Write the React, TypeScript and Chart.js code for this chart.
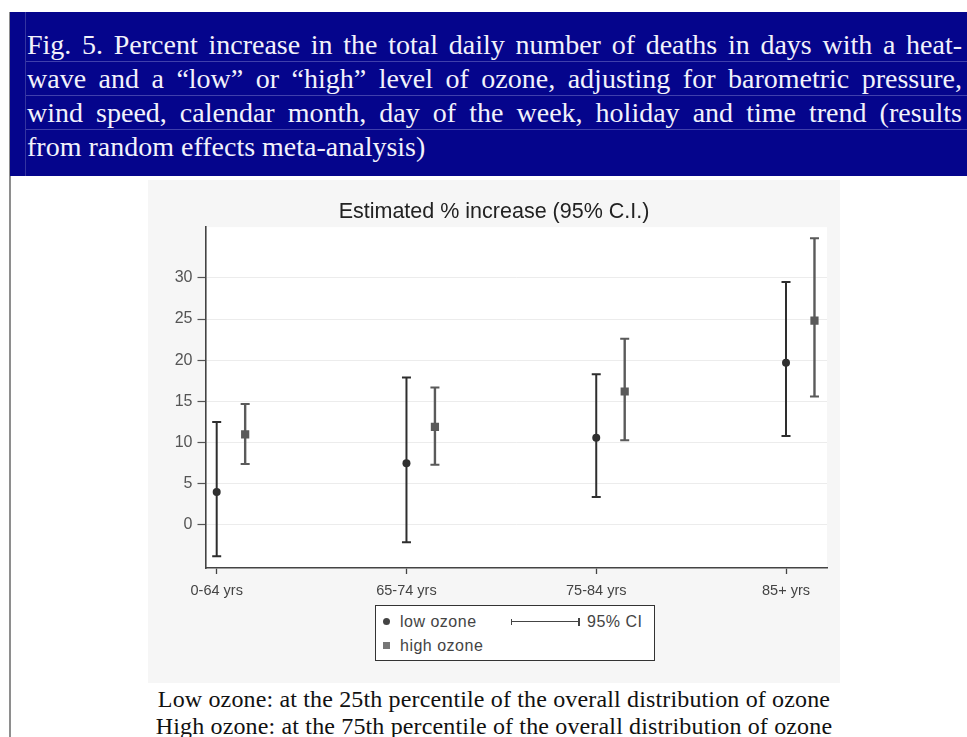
import React, { useEffect, useRef } from 'react';
import { Chart, registerables } from 'chart.js';

Chart.register(...registerables);

// ---- data ----
const categories = ['0-64 yrs', '65-74 yrs', '75-84 yrs', '85+ yrs'];
const lowEstimate = [4.0, 7.5, 10.6, 19.7];
const lowLower = [-3.8, -2.1, 3.4, 10.8];
const lowUpper = [12.5, 17.9, 18.3, 29.5];
const highEstimate = [11.0, 11.9, 16.2, 24.8];
const highLower = [7.4, 7.3, 10.3, 15.6];
const highUpper = [14.7, 16.7, 22.6, 34.8];
const yTicks = [0, 5, 10, 15, 20, 25, 30];
const highOffset = 0.15;

const headerLines = [
  'Fig. 5. Percent increase in the total daily number of deaths in days with a heat-',
  'wave and a \u201clow\u201d or \u201chigh\u201d level of ozone, adjusting for barometric pressure,',
  'wind speed, calendar month, day of the week, holiday and time trend (results',
  'from random effects meta-analysis)',
];
const captionLines = [
  'Low ozone: at the 25th percentile of the overall distribution of ozone',
  'High ozone: at the 75th percentile of the overall distribution of ozone',
];

const SANS = "'Liberation Sans', Arial, Helvetica, sans-serif";
const SERIF = "'Liberation Serif', 'Times New Roman', serif";

const errorSpecs = [
  { lower: lowLower, upper: lowUpper, color: '#2e2e2e', width: 2 },
  { lower: highLower, upper: highUpper, color: '#5a5a5a', width: 2.4 },
];

const bgPlugin = {
  id: 'panelBg',
  beforeDraw(chart: any) {
    const { ctx, chartArea, width, height } = chart;
    ctx.save();
    ctx.fillStyle = '#f6f6f6';
    ctx.fillRect(0, 0, width, height);
    ctx.fillStyle = '#ffffff';
    ctx.fillRect(chartArea.left, chartArea.top, chartArea.right - chartArea.left, chartArea.bottom - chartArea.top);
    ctx.restore();
  },
};

const errorBarPlugin = {
  id: 'errorBars',
  beforeDatasetsDraw(chart: any) {
    const { ctx } = chart;
    const xs = chart.scales.x;
    const ys = chart.scales.y;
    chart.data.datasets.forEach((ds: any, di: number) => {
      const spec = errorSpecs[di];
      ds.data.forEach((p: any, i: number) => {
        const px = xs.getPixelForValue(p.x);
        const top = ys.getPixelForValue(spec.upper[i]);
        const bot = ys.getPixelForValue(spec.lower[i]);
        ctx.save();
        ctx.strokeStyle = spec.color;
        ctx.lineWidth = spec.width;
        ctx.beginPath();
        ctx.moveTo(px, top);
        ctx.lineTo(px, bot);
        ctx.stroke();
        ctx.lineWidth = 2;
        ctx.beginPath();
        ctx.moveTo(px - 4.5, top);
        ctx.lineTo(px + 4.5, top);
        ctx.moveTo(px - 4.5, bot);
        ctx.lineTo(px + 4.5, bot);
        ctx.stroke();
        ctx.restore();
      });
    });
  },
};

function ChartPanel() {
  const ref = useRef<HTMLCanvasElement | null>(null);
  useEffect(() => {
    if (!ref.current) return;
    const chart = new Chart(ref.current, {
      type: 'scatter',
      data: {
        datasets: [
          {
            label: 'low ozone',
            data: lowEstimate.map((v, i) => ({ x: i + 1, y: v })),
            pointStyle: 'circle',
            pointRadius: 4,
            pointHoverRadius: 4,
            backgroundColor: '#303030',
            borderWidth: 0,
          },
          {
            label: 'high ozone',
            data: highEstimate.map((v, i) => ({ x: i + 1 + highOffset, y: v })),
            pointStyle: 'rect',
            pointRadius: 5.8,
            pointHoverRadius: 5.8,
            backgroundColor: '#5a5a5a',
            borderWidth: 0,
          },
        ],
      },
      options: {
        animation: false,
        responsive: false,
        devicePixelRatio: 1,
        events: [],
        layout: { padding: { left: 13, right: 13, top: 0, bottom: 75 } },
        plugins: {
          legend: { display: false },
          tooltip: { enabled: false },
          title: {
            display: true,
            text: 'Estimated % increase (95% C.I.)',
            color: '#222',
            font: { family: SANS, size: 21.5, weight: 'normal', lineHeight: 1.1 },
            padding: { top: 20, bottom: 3.5 },
          },
        },
        scales: {
          x: {
            type: 'linear',
            min: 0.941,
            max: 4.216,
            afterBuildTicks: (s: any) => {
              s.ticks = categories.map((_, i) => ({ value: i + 1 }));
            },
            afterFit: (s: any) => {
              s.height = 40;
            },
            ticks: {
              autoSkip: false,
              maxRotation: 0,
              padding: 8,
              color: '#444',
              font: { family: SANS, size: 14.5 },
              callback: (_v: any, idx: number) => categories[idx],
            },
            grid: {
              drawOnChartArea: false,
              drawTicks: true,
              tickLength: 6,
              tickColor: '#444',
              tickWidth: 1.3,
            },
            border: { color: '#444', width: 1.6 },
          },
          y: {
            type: 'linear',
            min: -5.22,
            max: 36.15,
            afterBuildTicks: (s: any) => {
              s.ticks = yTicks.map((v) => ({ value: v }));
            },
            afterFit: (s: any) => {
              s.width = 44.5;
            },
            ticks: {
              padding: 5,
              color: '#555',
              font: { family: SANS, size: 16 },
            },
            grid: {
              color: '#ececec',
              lineWidth: 1,
              tickLength: 8,
              tickColor: '#555',
              tickWidth: 1.2,
            },
            border: { color: '#444', width: 1.6 },
          },
        },
      } as any,
      plugins: [bgPlugin, errorBarPlugin],
    });
    return () => chart.destroy();
  }, []);
  return (
    <canvas
      ref={ref}
      width={692}
      height={503}
      style={{ position: 'absolute', left: 148, top: 180, width: 692, height: 503, display: 'block' }}
    />
  );
}

function Legend() {
  const txt: React.CSSProperties = {
    position: 'absolute',
    fontFamily: SANS,
    fontSize: 16,
    letterSpacing: 0.5,
    lineHeight: '20px',
    color: '#444',
    whiteSpace: 'nowrap',
  };
  return (
    <div
      style={{
        position: 'absolute',
        left: 375,
        top: 605,
        width: 280,
        height: 56,
        boxSizing: 'border-box',
        border: '1.5px solid #333',
        background: '#fff',
      }}
    >
      <div style={{ position: 'absolute', left: 7, top: 12, width: 7, height: 7, borderRadius: '50%', background: '#444' }} />
      <div style={{ ...txt, left: 24, top: 6 }}>low ozone</div>
      <div style={{ position: 'absolute', left: 7, top: 36, width: 7, height: 7, background: '#777' }} />
      <div style={{ ...txt, left: 24, top: 30 }}>high ozone</div>
      <div style={{ position: 'absolute', left: 135, top: 15, width: 68, height: 1.3, background: '#444' }} />
      <div style={{ position: 'absolute', left: 135, top: 12.5, width: 1.3, height: 6, background: '#444' }} />
      <div style={{ position: 'absolute', left: 202, top: 11.5, width: 1.5, height: 8, background: '#444' }} />
      <div style={{ ...txt, left: 211, top: 6 }}>95% CI</div>
    </div>
  );
}

export default function App() {
  return (
    <div style={{ position: 'fixed', left: 0, top: 0, width: 967, height: 737, background: '#fff', overflow: 'hidden' }}>
      {/* left border of the page frame */}
      <div style={{ position: 'absolute', left: 9, top: 12, width: 2, height: 725, background: '#8e8e8e' }} />
      {/* header */}
      <div style={{ position: 'absolute', left: 10, top: 12, width: 957, height: 164, background: '#05058c' }}>
        <div style={{ position: 'absolute', left: 15, top: 0, width: 1, height: 164, background: '#3434a0' }} />
        {headerLines.map((line, i) => (
          <div
            key={i}
            style={{
              position: 'absolute',
              left: 16,
              top: 16 + 34 * i,
              width: 941,
              height: 34,
              boxSizing: 'border-box',
              borderBottom: i < 3 ? '1px solid #4040ac' : 'none',
            }}
          >
            <div
              style={{
                position: 'absolute',
                left: 1,
                top: 0,
                width: 935,
                fontFamily: SERIF,
                fontSize: 28,
                lineHeight: '33px',
                color: '#f2f2fb',
                whiteSpace: 'nowrap',
                textAlign: i < 3 ? 'justify' : 'left',
                textAlignLast: i < 3 ? 'justify' : 'left',
              } as React.CSSProperties}
            >
              {line}
            </div>
          </div>
        ))}
      </div>
      <ChartPanel />
      <Legend />
      {/* caption */}
      <div style={{ position: 'absolute', left: 148, top: 686, width: 692, textAlign: 'center' }}>
        {captionLines.map((l, i) => (
          <div
            key={i}
            style={{
              fontFamily: SERIF,
              fontSize: 24,
              letterSpacing: 0.15,
              lineHeight: '27px',
              color: '#111',
              whiteSpace: 'nowrap',
            }}
          >
            {l}
          </div>
        ))}
      </div>
    </div>
  );
}
